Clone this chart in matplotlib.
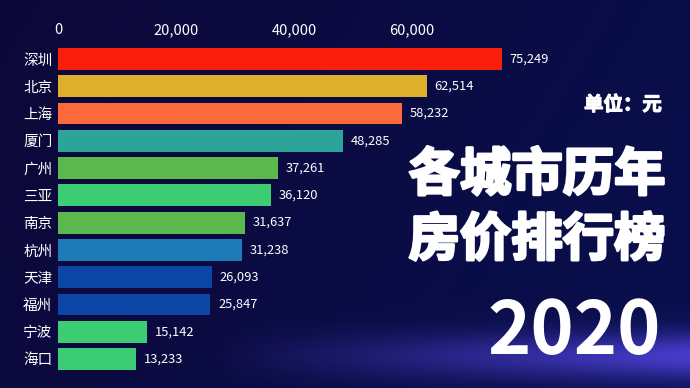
import numpy as np
import matplotlib
matplotlib.use("Agg")
import matplotlib.pyplot as plt
import matplotlib.patheffects as pe
from matplotlib.ticker import FuncFormatter

plt.rcParams["font.family"] = ["Noto Sans CJK SC", "DejaVu Sans"]

cities = ["深圳", "北京", "上海", "厦门", "广州", "三亚", "南京", "杭州", "天津", "福州", "宁波", "海口"]
prices = [75249, 62514, 58232, 48285, 37261, 36120, 31637, 31238, 26093, 25847, 15142, 13233]
colors = ["#fc1e0c", "#dcb02c", "#fc6a3c", "#2ca49a", "#5cb84c", "#3ccc74",
          "#5cb84c", "#1e7ab6", "#0c46a6", "#0c46a6", "#3ccc74", "#3ccc74"]
ticks = [0, 20000, 40000, 60000]
year = "2020"

W, H = 690, 388
fig = plt.figure(figsize=(W / 100, H / 100), dpi=100)

# background gradient
bg = fig.add_axes([0, 0, 1, 1])
yy, xx = np.mgrid[0:1:200j, 0:1:360j]
top = np.array([0.05, 0.03, 0.22])
mid = np.array([0.03, 0.07, 0.33])
r = np.clip(xx * 0.6 + (1 - yy) * 0.2, 0, 1)[..., None]
img = top * (1 - r) + mid * r
glow = np.exp(-((yy - 0.08) / 0.06) ** 2)[..., None] * np.clip(xx - 0.3, 0, 1)[..., None]
img = np.clip(img + glow * np.array([0.35, 0.25, 0.7]), 0, 1)
bg.imshow(img, extent=[0, 1, 0, 1], aspect="auto", origin="lower")
bg.axis("off")

# bar chart
x0, x1 = 58, 530
y_top, y_bot = 45.4, 372.6
ax = fig.add_axes([x0 / W, 1 - y_bot / H, (x1 - x0) / W, (y_bot - y_top) / H])
ax.set_facecolor("none")
pos = np.arange(len(cities))
ax.barh(pos, prices, height=0.8, color=colors)
ax.set_xlim(0, 80000)
ax.set_ylim(len(cities) - 0.5, -0.5)
ax.set_yticks(pos)
ax.set_yticklabels(cities, color="white", fontsize=10.5)
ax.set_xticks(ticks)
ax.xaxis.set_major_formatter(FuncFormatter(lambda v, p: f"{int(v):,}"))
ax.xaxis.tick_top()
ax.tick_params(axis="x", colors="white", labelsize=10.5, length=0, pad=6)
ax.tick_params(axis="y", length=0, pad=4)
for s in ax.spines.values():
    s.set_visible(False)
for i, v in enumerate(prices):
    ax.text(v + 1300, i, f"{v:,}", color="white", fontsize=9.3, va="center", ha="left")

# titles
fig.text(662 / W, 1 - 105 / H, "单位：元", color="white", fontsize=14,
         fontweight="bold", ha="right", va="center",
         path_effects=[pe.withStroke(linewidth=0.8, foreground="white")])
for txt, yc in [("各城市历年", 175), ("房价排行榜", 240)]:
    fig.text(537 / W, 1 - yc / H, txt, color="white", fontsize=37,
             fontweight="heavy", ha="center", va="center",
             path_effects=[pe.withStroke(linewidth=2, foreground="white")])
fig.text(661 / W, 1 - 333 / H, year, color="white", fontsize=53,
         fontweight="bold", ha="right", va="center")

fig.savefig("out.png", dpi=100)
